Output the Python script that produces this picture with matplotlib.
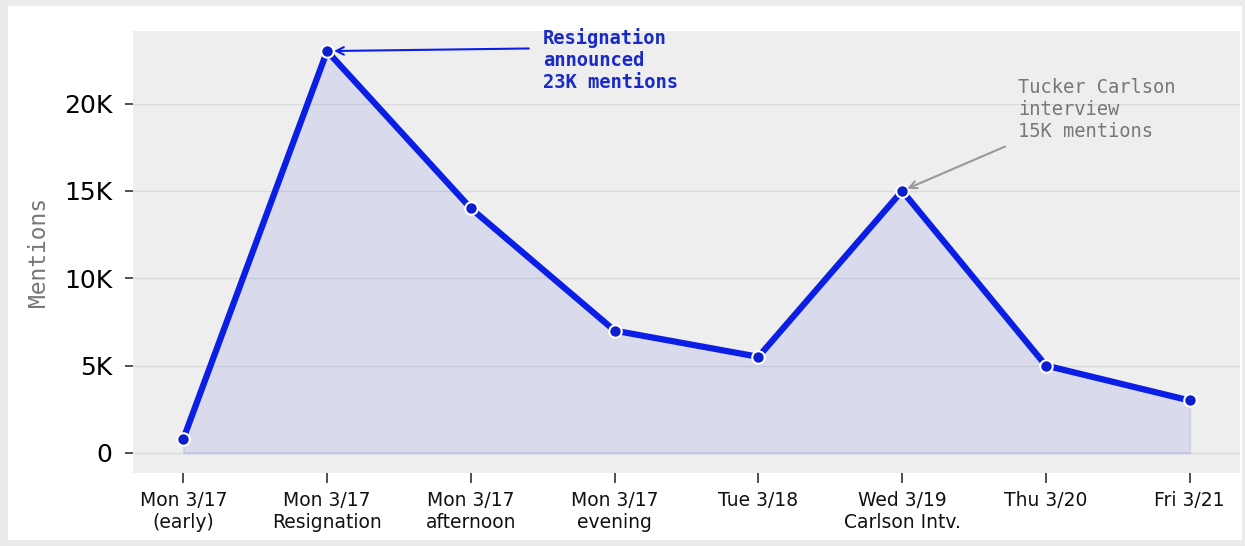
import matplotlib
matplotlib.use("Agg")
import matplotlib.pyplot as plt
from matplotlib.patches import Rectangle
from matplotlib.ticker import FuncFormatter

# data
periods = ["Mon 3/17\n(early)", "Mon 3/17\nResignation", "Mon 3/17\nafternoon",
           "Mon 3/17\nevening", "Tue 3/18", "Wed 3/19\nCarlson Intv.",
           "Thu 3/20", "Fri 3/21"]
mentions = [800, 23000, 14000, 7000, 5500, 15000, 5000, 3000]
y_ticks = [0, 5000, 10000, 15000, 20000]

peak_idx = 1
carlson_idx = 5

line_color = "#0a1ee6"

fig = plt.figure(figsize=(12.45, 5.46), dpi=100)
fig.patch.set_facecolor("#ebebeb")
# white card inside the grey frame
fig.patches.append(Rectangle((8 / 1245, 6 / 546), 1234 / 1245, 534 / 546,
                             transform=fig.transFigure, facecolor="white",
                             edgecolor="none", zorder=-10))

ax = fig.add_axes([133 / 1245, 73 / 546, 1107 / 1245, 442 / 546])
ax.set_facecolor("#eeeeee")

x = list(range(len(periods)))
ax.fill_between(x, mentions, 0, color=line_color, alpha=0.09, linewidth=1.5)
ax.plot(x, mentions, color=line_color, linewidth=4.5, marker="o",
        markersize=9, markerfacecolor="#0b1ed0", markeredgecolor="white",
        markeredgewidth=1.5, zorder=3)

ax.set_xticks(x)
ax.set_xticklabels(periods, fontsize=13.5, color="#111111")
ax.set_yticks(y_ticks)
ax.yaxis.set_major_formatter(FuncFormatter(lambda v, p: "0" if v == 0 else f"{int(v / 1000)}K"))
ax.tick_params(axis="y", labelsize=18, length=6, width=1.2, color="#333333", pad=9)
ax.tick_params(axis="x", length=7, width=1.2, color="#333333", pad=6)

ax.grid(axis="y", color="#dadada", linewidth=1)
ax.set_axisbelow(True)
for s in ax.spines.values():
    s.set_visible(False)

ax.set_ylabel("Mentions", family="DejaVu Sans Mono", fontsize=16.5,
              color="#777777", labelpad=10)

ax.annotate("Resignation\nannounced\n23K mentions",
            xy=(x[peak_idx], mentions[peak_idx]), xytext=(2.5, 22500),
            ha="left", va="center", family="DejaVu Sans Mono", fontsize=13.5,
            fontweight="bold", color="#1a2ac8",
            arrowprops=dict(arrowstyle="->", color=line_color, lw=1.5,
                            relpos=(0, 0.68), shrinkA=8, shrinkB=5))

ax.annotate("Tucker Carlson\ninterview\n15K mentions",
            xy=(x[carlson_idx], mentions[carlson_idx]), xytext=(5.806, 19660),
            ha="left", va="center", family="DejaVu Sans Mono", fontsize=13.5,
            color="#777777",
            arrowprops=dict(arrowstyle="->", color="#999999", lw=1.5,
                            relpos=(0, 0), shrinkA=8, shrinkB=4))

fig.savefig("out.png", dpi=100, facecolor=fig.get_facecolor())
